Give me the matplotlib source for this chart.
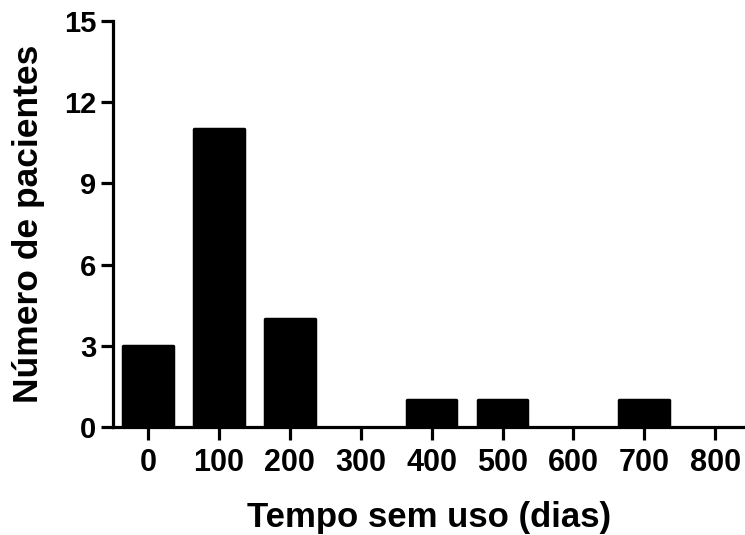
import matplotlib
matplotlib.use("Agg")
import matplotlib.pyplot as plt

categories = [0, 100, 200, 400, 500, 700]
counts = [3, 11, 4, 1, 1, 1]
xticks = [0, 100, 200, 300, 400, 500, 600, 700, 800]
yticks = [0, 3, 6, 9, 12, 15]

plt.rcParams['font.family'] = ['Liberation Sans', 'DejaVu Sans']
plt.rcParams['font.weight'] = 'bold'

fig = plt.figure(figsize=(7.45, 5.35), dpi=100)
ax = fig.add_axes([113/745, (535-427)/535, 1 - 113/745 - 0.001, (427-21)/535])

ax.bar(categories, counts, width=70, color='black', edgecolor='black',
       linewidth=2.5, joinstyle='round', zorder=3)

ax.set_xlim(-49.5, 841)
ax.set_ylim(0, 15)
ax.set_xticks(xticks)
ax.set_yticks(yticks)
ax.set_xticklabels([str(t) for t in xticks], fontsize=22, fontweight='bold')
ax.set_yticklabels([str(t) for t in yticks], fontsize=21, fontweight='bold')

for s in ['top', 'right']:
    ax.spines[s].set_visible(False)
for s in ['left', 'bottom']:
    ax.spines[s].set_linewidth(2.3)
    ax.spines[s].set_capstyle('projecting')

ax.tick_params(axis='y', direction='out', length=9, width=2.3, pad=3)
ax.tick_params(axis='x', direction='out', length=9, width=2.3, pad=6)

ax.set_xlabel('Tempo sem uso (dias)', fontsize=25, fontweight='bold', labelpad=17)
ax.set_ylabel('Número de pacientes', fontsize=25.5, fontweight='bold', labelpad=14)

fig.savefig('out.png', dpi=100)
